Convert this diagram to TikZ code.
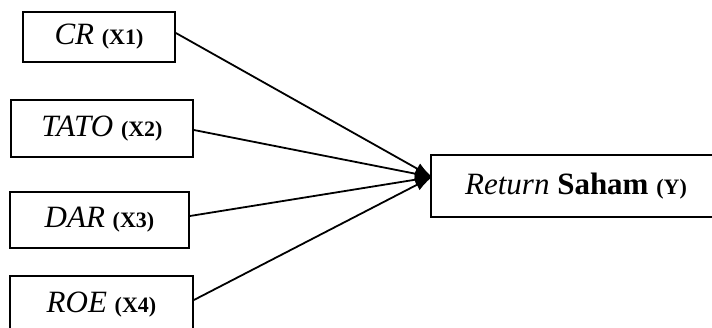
\documentclass[tikz,border=0pt]{standalone}
\usepackage{fontspec}
\setmainfont{Liberation Serif}
\usetikzlibrary{arrows.meta}
\newcommand{\bigtxt}{\fontsize{31}{34}\selectfont}
\newcommand{\smltxt}{\fontsize{22}{26}\selectfont\upshape\bfseries}
\begin{document}
\begin{tikzpicture}[x=1pt,y=-1pt,
  box/.style={draw=black,line width=1.8pt,inner sep=0pt,fill=white},
  arr/.style={line width=1.8pt,-{Latex[length=17pt,width=12pt]}}]
\useasboundingbox (0,0) rectangle (712,327);
\node[box,minimum width=152pt,minimum height=50pt] (cr) at (99,37) {\bigtxt\itshape CR \smltxt (X1)};
\node[box,minimum width=182pt,minimum height=57pt] (tato) at (102,128.5) {\bigtxt\itshape TATO \smltxt (X2)};
\node[box,minimum width=179pt,minimum height=56pt] (dar) at (99.5,220) {\bigtxt\itshape DAR \smltxt (X3)};
\node[box,minimum width=183pt,minimum height=57pt] (roe) at (101.5,304.5) {\bigtxt\itshape ROE \smltxt (X4)};
\node[box,minimum width=290pt,minimum height=62pt] (y) at (576,186) {\bigtxt\itshape Return \upshape\bfseries Saham \smltxt (Y)};
\coordinate (tip) at (432,177);
\draw[arr] (cr.east |- 0,33) -- (tip);
\draw[arr] (tato.east |- 0,130) -- (tip);
\draw[arr] (dar.east |- 0,216) -- (tip);
\draw[arr] (roe.east |- 0,300) -- (tip);
\end{tikzpicture}
\end{document}
